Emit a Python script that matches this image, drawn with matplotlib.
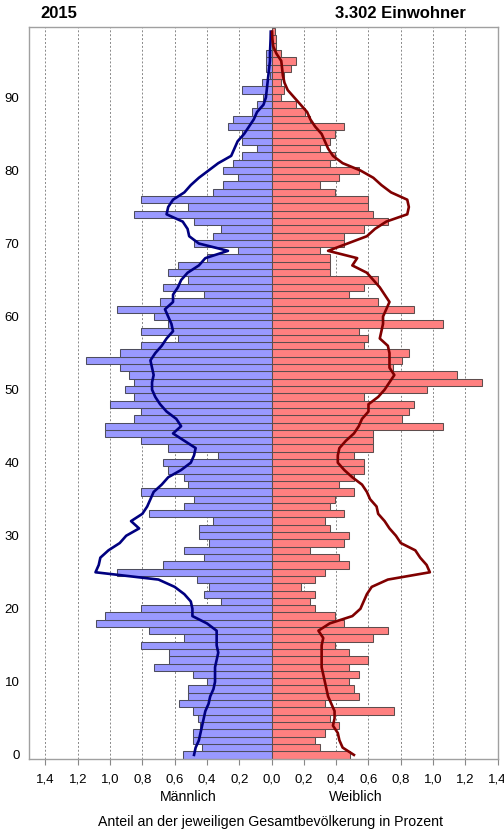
import matplotlib
matplotlib.use("Agg")
import matplotlib.pyplot as plt
import numpy as np

plt.rcParams['font.family'] = ['Liberation Sans', 'DejaVu Sans']

title_left = "2015"
title_right = "3.302 Einwohner"
label_male = "Männlich"
label_female = "Weiblich"
xlabel = "Anteil an der jeweiligen Gesamtbevölkerung in Prozent"

ages = list(range(100))

# bar values (percent), index = age 0..99
male = [0.55, 0.43, 0.485, 0.485, 0.44, 0.455, 0.485, 0.575, 0.515, 0.515,
        0.40, 0.485, 0.73, 0.635, 0.635, 0.81, 0.54, 0.76, 1.09, 1.03,
        0.81, 0.31, 0.42, 0.39, 0.46, 0.96, 0.67, 0.42, 0.54, 0.39,
        0.45, 0.45, 0.36, 0.76, 0.54, 0.48, 0.81, 0.52, 0.54, 0.64,
        0.67, 0.33, 0.64, 0.81, 1.03, 1.03, 0.85, 0.81, 1.00, 0.85,
        0.91, 0.85, 0.88, 0.94, 1.15, 0.94, 0.81, 0.58, 0.81, 0.64,
        0.73, 0.96, 0.69, 0.42, 0.67, 0.52, 0.64, 0.58, 0.40, 0.21,
        0.48, 0.36, 0.31, 0.48, 0.85, 0.52, 0.81, 0.36, 0.30, 0.21,
        0.30, 0.24, 0.18, 0.09, 0.18, 0.18, 0.27, 0.24, 0.12, 0.09,
        0.05, 0.186, 0.06, 0.01, 0.035, 0.035, 0.035, 0.0, 0.0, 0.0]

female = [0.485, 0.30, 0.27, 0.33, 0.42, 0.36, 0.76, 0.33, 0.54, 0.51,
          0.48, 0.54, 0.48, 0.60, 0.48, 0.39, 0.63, 0.72, 0.45, 0.39,
          0.27, 0.24, 0.27, 0.18, 0.27, 0.33, 0.48, 0.42, 0.24, 0.45,
          0.48, 0.36, 0.33, 0.45, 0.36, 0.39, 0.51, 0.42, 0.51, 0.57,
          0.57, 0.51, 0.63, 0.63, 0.63, 1.06, 0.81, 0.85, 0.88, 0.57,
          0.96, 1.30, 1.15, 0.75, 0.81, 0.85, 0.57, 0.60, 0.54, 1.06,
          0.69, 0.88, 0.66, 0.48, 0.57, 0.66, 0.36, 0.36, 0.36, 0.30,
          0.45, 0.45, 0.57, 0.72, 0.63, 0.60, 0.60, 0.39, 0.30, 0.42,
          0.54, 0.36, 0.39, 0.30, 0.36, 0.39, 0.45, 0.24, 0.21, 0.15,
          0.06, 0.08, 0.06, 0.08, 0.12, 0.15, 0.06, 0.03, 0.027, 0.02]

# comparison lines (percent), index = age 0..99
male_ref = [0.48, 0.47, 0.45, 0.44, 0.43, 0.42, 0.41, 0.39, 0.38, 0.36,
            0.35, 0.35, 0.35, 0.34, 0.33, 0.34, 0.34, 0.34, 0.40, 0.49,
            0.49, 0.50, 0.54, 0.60, 0.70, 1.09, 1.07, 1.06, 1.01, 0.94,
            0.90, 0.82, 0.87, 0.80, 0.77, 0.75, 0.73, 0.68, 0.64, 0.56,
            0.50, 0.48, 0.47, 0.54, 0.61, 0.56, 0.59, 0.65, 0.69, 0.72,
            0.74, 0.74, 0.73, 0.74, 0.75, 0.72, 0.68, 0.65, 0.61, 0.62,
            0.64, 0.66, 0.61, 0.61, 0.58, 0.56, 0.52, 0.45, 0.41, 0.27,
            0.45, 0.51, 0.52, 0.55, 0.65, 0.64, 0.61, 0.54, 0.50, 0.45,
            0.39, 0.33, 0.25, 0.23, 0.21, 0.17, 0.14, 0.11, 0.09, 0.05,
            0.035, 0.03, 0.025, 0.02, 0.015, 0.01, 0.01, 0.008, 0.006, 0.005]

female_ref = [0.51, 0.44, 0.42, 0.41, 0.38, 0.39, 0.39, 0.37, 0.35, 0.34,
              0.33, 0.32, 0.31, 0.31, 0.31, 0.31, 0.32, 0.29, 0.36, 0.50,
              0.55, 0.57, 0.59, 0.62, 0.72, 0.98, 0.96, 0.92, 0.89, 0.80,
              0.77, 0.73, 0.70, 0.66, 0.65, 0.61, 0.59, 0.56, 0.50, 0.45,
              0.41, 0.41, 0.42, 0.46, 0.51, 0.54, 0.56, 0.60, 0.60, 0.66,
              0.70, 0.73, 0.76, 0.73, 0.73, 0.73, 0.72, 0.67, 0.68, 0.69,
              0.69, 0.71, 0.73, 0.70, 0.67, 0.63, 0.59, 0.50, 0.53, 0.35,
              0.47, 0.59, 0.64, 0.71, 0.84, 0.85, 0.84, 0.74, 0.68, 0.63,
              0.55, 0.44, 0.38, 0.35, 0.33, 0.31, 0.27, 0.24, 0.22, 0.18,
              0.14, 0.10, 0.08, 0.07, 0.065, 0.06, 0.03, 0.01, 0.005, 0.003]

xticks = [-1.4, -1.2, -1.0, -0.8, -0.6, -0.4, -0.2, 0.0, 0.2, 0.4, 0.6, 0.8, 1.0, 1.2, 1.4]
yticks = [0, 10, 20, 30, 40, 50, 60, 70, 80, 90]

fig = plt.figure(figsize=(5.04, 8.32), dpi=100)
ax = fig.add_axes([0.0581, 0.0874, 0.9294, 0.8798])

ax.barh(ages, [-v for v in male], height=1.0, color='#9999FF',
        edgecolor='#4d4d5e', linewidth=0.75, zorder=2)
ax.barh(ages, female, height=1.0, color='#FF8080',
        edgecolor='#5e4d4d', linewidth=0.75, zorder=2)

ax.plot([-v for v in male_ref], ages, color='#000080', linewidth=1.9, zorder=4)
ax.plot(female_ref, ages, color='#800000', linewidth=1.9, zorder=4)

ax.set_xlim(-1.5, 1.4)
ax.set_ylim(-0.6, 99.6)

for xv in xticks:
    if xv != 0.0:
        ax.axvline(xv, color='#888888', linestyle=(0, (2, 2)), linewidth=0.7, zorder=1)

ax.set_xticks(xticks)
ax.set_xticklabels([f"{abs(v):.1f}".replace('.', ',') for v in xticks], fontsize=9.5)
ax.set_yticks(yticks)
ax.set_yticklabels([str(v) for v in yticks], fontsize=9.5)
ax.tick_params(axis='y', length=0, pad=7)
ax.tick_params(axis='x', direction='out', length=4, width=0.8, color='#888888', pad=6)

for sp in ax.spines.values():
    sp.set_color('#A0A0A0')
    sp.set_linewidth(1.0)

fig.text(40 / 504, 1 - 14 / 832, title_left, fontsize=12, fontweight='bold',
         ha='left', va='center')
fig.text(466 / 504, 1 - 14 / 832, title_right, fontsize=12, fontweight='bold',
         ha='right', va='center')
fig.text(188 / 504, 1 - 797 / 832, label_male, fontsize=10.2, ha='center', va='center')
fig.text(356 / 504, 1 - 797 / 832, label_female, fontsize=10.2, ha='center', va='center')
fig.text(270 / 504, 1 - 822 / 832, xlabel, fontsize=10.2, ha='center', va='center')

fig.savefig("out.png", dpi=100)
